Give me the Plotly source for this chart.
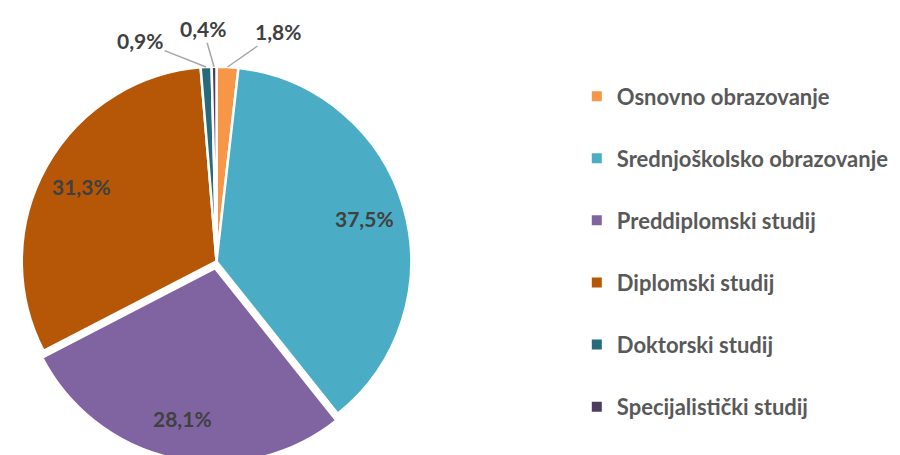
import math
import plotly.graph_objects as go

categories = ['Osnovno obrazovanje', 'Srednjoškolsko obrazovanje', 'Preddiplomski studij',
              'Diplomski studij', 'Doktorski studij', 'Specijalistički studij']
shares = [1.8, 37.5, 28.1, 31.3, 0.9, 0.4]
colors = ['#F79646', '#4BACC6', '#8064A2', '#B65708', '#276A7C', '#4D3B62']

labels_txt = [('%.1f%%' % v).replace('.', ',') for v in shares]
pulls = [0, 0, 0.035, 0, 0, 0]

# pixel offsets of the outside labels (small slices) from the slice rim
label_offsets = {0: (50, -35), 4: (-66, -26), 5: (-11, -38)}

fnt = 'Lato'
W, H = 900, 455
dom_x = [5.6/W, 411.4/W]
dom_y = [0.0, 0.886]

fig = go.Figure()

fig.add_trace(go.Pie(
    labels=categories,
    values=shares,
    textinfo='none',
    sort=False,
    direction='clockwise',
    rotation=0,
    pull=pulls,
    marker=dict(colors=colors, line=dict(color='white', width=2.5)),
    showlegend=False,
    hoverinfo='label+percent',
    domain=dict(x=dom_x, y=dom_y),
))

# data labels, placed from slice angles
cx = (dom_x[0] + dom_x[1]) / 2 * W
cy = (dom_y[0] + dom_y[1]) / 2 * H
r = min((dom_x[1] - dom_x[0]) * W, (dom_y[1] - dom_y[0]) * H) / 2 / (1 + max(pulls))
total = sum(shares)
cum = 0
for i, (v, txt) in enumerate(zip(shares, labels_txt)):
    mid = (cum + v / 2) / total * 2 * math.pi
    cum += v
    if i in label_offsets:
        px = cx + r * math.sin(mid)
        py = cy + r * math.cos(mid)
        ax, ay = label_offsets[i]
        fig.add_annotation(
            x=px / W, y=py / H, xref='paper', yref='paper',
            text=txt, showarrow=True, arrowhead=0, arrowwidth=1.5,
            arrowcolor='#A6A6A6', ax=ax, ay=ay, standoff=0,
            xanchor='center', yanchor='middle',
            font=dict(family=fnt, size=21, color='#404040', weight='bold'),
        )
    else:
        d = r * (0.79 + pulls[i])
        px = cx + d * math.sin(mid)
        py = cy + d * math.cos(mid)
        fig.add_annotation(
            x=px / W, y=py / H, xref='paper', yref='paper',
            text=txt, showarrow=False,
            xanchor='center', yanchor='middle',
            font=dict(family=fnt, size=21, color='#404040', weight='bold'),
        )

# legend entries drawn as invisible scatter traces so the spacing can be controlled
for name, col in zip(categories, colors):
    fig.add_trace(go.Scatter(
        x=[None], y=[None],
        mode='markers',
        name=name,
        legendgroup=name,
        marker=dict(symbol='square', size=10, color=col),
    ))

fig.update_layout(
    width=W,
    height=H,
    margin=dict(l=0, r=0, t=0, b=0),
    paper_bgcolor='white',
    plot_bgcolor='white',
    xaxis=dict(visible=False),
    yaxis=dict(visible=False),
    legend=dict(
        x=0.632, y=0.852,
        xanchor='left', yanchor='top',
        tracegroupgap=30.5,
        font=dict(family=fnt, size=22, color='#595959', weight='bold'),
        itemwidth=30,
    ),
)

fig.write_html('out.html')
